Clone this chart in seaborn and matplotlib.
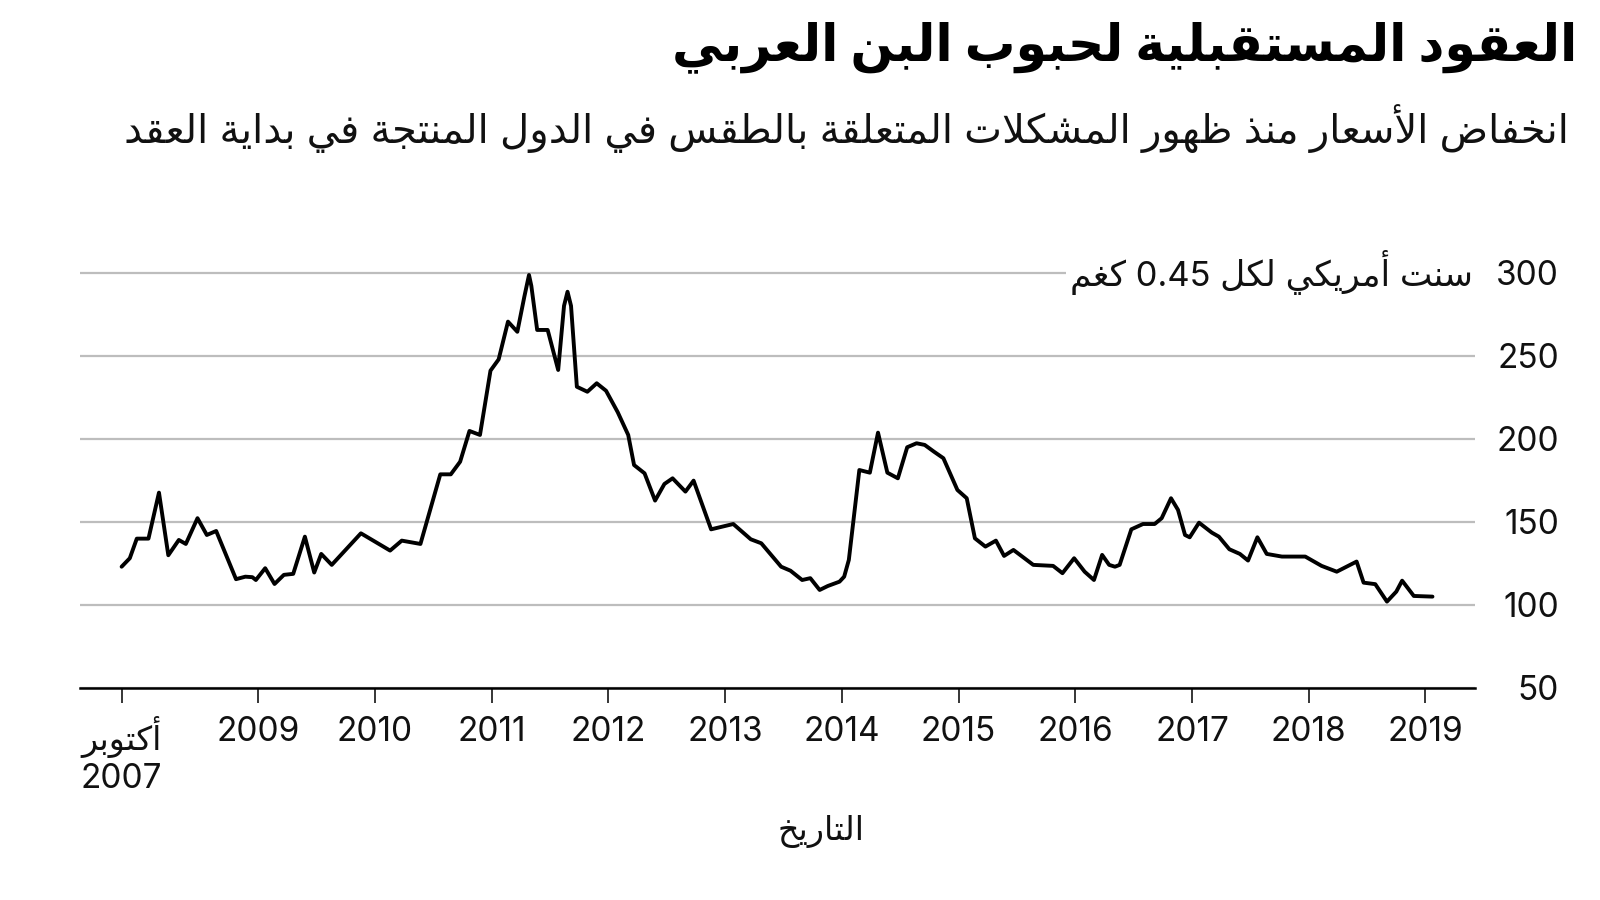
import re
import numpy as np
import pandas as pd
import matplotlib
matplotlib.use("Agg")
import matplotlib.pyplot as plt
import matplotlib.transforms as mtransforms
import seaborn as sns

# ---------------- data ----------------
years = [
    2007.83, 2007.90, 2007.96, 2008.06, 2008.15, 2008.23, 2008.32, 2008.38, 2008.48, 2008.56, 2008.64, 2008.81, 2008.89, 2008.95, 2008.98,
    2009.06, 2009.14, 2009.22, 2009.30, 2009.40, 2009.48, 2009.54, 2009.63, 2009.88, 2010.13, 2010.23, 2010.39, 2010.56, 2010.65, 2010.73,
    2010.81, 2010.90, 2010.99, 2011.06, 2011.14, 2011.22, 2011.28, 2011.32, 2011.34, 2011.39, 2011.48, 2011.57, 2011.62, 2011.65, 2011.68, 2011.73,
    2011.82, 2011.90, 2011.98, 2012.08, 2012.17, 2012.22, 2012.31, 2012.40, 2012.48, 2012.55, 2012.66, 2012.73, 2012.88, 2013.07, 2013.22, 2013.31,
    2013.48, 2013.56, 2013.66, 2013.73, 2013.81, 2013.88, 2013.98, 2014.02, 2014.06, 2014.15, 2014.24, 2014.31, 2014.39, 2014.48, 2014.56, 2014.64,
    2014.71, 2014.79, 2014.87, 2014.99, 2015.07, 2015.14, 2015.23, 2015.32,
    2015.39, 2015.47, 2015.64, 2015.81, 2015.89, 2015.99, 2016.08, 2016.16, 2016.23, 2016.29, 2016.34, 2016.38, 2016.48, 2016.58, 2016.68, 2016.74,
    2016.82, 2016.88, 2016.94, 2016.98,
    2017.06, 2017.17, 2017.23, 2017.32, 2017.41, 2017.48, 2017.56, 2017.64, 2017.77, 2017.97, 2018.11, 2018.24, 2018.41, 2018.47, 2018.57, 2018.67,
    2018.75, 2018.80, 2018.90, 2019.06,
]
prices = [
    123.0, 128.1, 139.9, 139.9, 167.6, 129.9, 139.1, 136.7, 152.2, 142.1, 144.5, 115.5, 117.0, 116.7, 115.0,
    122.1, 112.6, 118.1, 118.7, 141.1, 119.5, 130.7, 124.1, 143.1, 132.7, 138.7, 136.7, 178.6, 178.6, 186.2,
    204.7, 202.3, 241.0, 247.8, 270.5, 264.4, 285.5, 298.6, 292.0, 265.5, 265.5, 241.4, 280.0, 288.5, 280.0, 231.3,
    228.3, 233.4, 228.9, 216.0, 202.3, 184.2, 179.2, 162.8, 172.8, 176.2, 168.2, 174.8, 145.5, 148.7, 139.5, 137.1,
    123.0, 120.6, 115.0, 116.1, 109.0, 111.4, 114.0, 117.0, 127.1, 181.2, 179.6, 203.7, 179.6, 176.2, 194.9, 197.3,
    196.3, 192.2, 188.3, 169.2, 164.2, 140.1, 135.1, 138.7,
    129.5, 133.1, 124.1, 123.5, 119.1, 128.1, 120.0, 115.0, 130.1, 124.1, 123.0, 124.1, 145.5, 148.7, 148.7, 152.2,
    164.2, 157.2, 142.1, 140.7,
    149.5, 143.5, 141.1, 133.5, 130.7, 126.7, 140.7, 130.7, 129.1, 129.1, 123.5, 120.0, 126.1, 113.4, 112.5, 102.0,
    108.0, 114.6, 105.4, 105.0,
]
xtick_pos = [2007.83, 2009, 2010, 2011, 2012, 2013, 2014, 2015, 2016, 2017, 2018, 2019]
xtick_labels = ["أكتوبر\n2007", "2009", "2010", "2011", "2012", "2013", "2014",
                "2015", "2016", "2017", "2018", "2019"]
ytick_values = [50, 100, 150, 200, 250, 300]
ytick_labels = ["50", "100", "150", "200", "250", "300"]

title = "العقود المستقبلية لحبوب البن العربي"
subtitle = "انخفاض الأسعار منذ ظهور المشكلات المتعلقة بالطقس في الدول المنتجة في بداية العقد"
unit_label = "سنت أمريكي لكل 0.45 كغم"
x_label = "التاريخ"

# ---------------- minimal Arabic shaping (presentation forms) ----------------
FORMS = {
    '\u0621': ('\uFE80', None, None, None),
    '\u0622': ('\uFE81', '\uFE82', None, None),
    '\u0623': ('\uFE83', '\uFE84', None, None),
    '\u0624': ('\uFE85', '\uFE86', None, None),
    '\u0625': ('\uFE87', '\uFE88', None, None),
    '\u0626': ('\uFE89', '\uFE8A', '\uFE8B', '\uFE8C'),
    '\u0627': ('\uFE8D', '\uFE8E', None, None),
    '\u0628': ('\uFE8F', '\uFE90', '\uFE91', '\uFE92'),
    '\u0629': ('\uFE93', '\uFE94', None, None),
    '\u062A': ('\uFE95', '\uFE96', '\uFE97', '\uFE98'),
    '\u062B': ('\uFE99', '\uFE9A', '\uFE9B', '\uFE9C'),
    '\u062C': ('\uFE9D', '\uFE9E', '\uFE9F', '\uFEA0'),
    '\u062D': ('\uFEA1', '\uFEA2', '\uFEA3', '\uFEA4'),
    '\u062E': ('\uFEA5', '\uFEA6', '\uFEA7', '\uFEA8'),
    '\u062F': ('\uFEA9', '\uFEAA', None, None),
    '\u0630': ('\uFEAB', '\uFEAC', None, None),
    '\u0631': ('\uFEAD', '\uFEAE', None, None),
    '\u0632': ('\uFEAF', '\uFEB0', None, None),
    '\u0633': ('\uFEB1', '\uFEB2', '\uFEB3', '\uFEB4'),
    '\u0634': ('\uFEB5', '\uFEB6', '\uFEB7', '\uFEB8'),
    '\u0635': ('\uFEB9', '\uFEBA', '\uFEBB', '\uFEBC'),
    '\u0636': ('\uFEBD', '\uFEBE', '\uFEBF', '\uFEC0'),
    '\u0637': ('\uFEC1', '\uFEC2', '\uFEC3', '\uFEC4'),
    '\u0638': ('\uFEC5', '\uFEC6', '\uFEC7', '\uFEC8'),
    '\u0639': ('\uFEC9', '\uFECA', '\uFECB', '\uFECC'),
    '\u063A': ('\uFECD', '\uFECE', '\uFECF', '\uFED0'),
    '\u0641': ('\uFED1', '\uFED2', '\uFED3', '\uFED4'),
    '\u0642': ('\uFED5', '\uFED6', '\uFED7', '\uFED8'),
    '\u0643': ('\uFED9', '\uFEDA', '\uFEDB', '\uFEDC'),
    '\u0644': ('\uFEDD', '\uFEDE', '\uFEDF', '\uFEE0'),
    '\u0645': ('\uFEE1', '\uFEE2', '\uFEE3', '\uFEE4'),
    '\u0646': ('\uFEE5', '\uFEE6', '\uFEE7', '\uFEE8'),
    '\u0647': ('\uFEE9', '\uFEEA', '\uFEEB', '\uFEEC'),
    '\u0648': ('\uFEED', '\uFEEE', None, None),
    '\u0649': ('\uFEEF', '\uFEF0', None, None),
    '\u064A': ('\uFEF1', '\uFEF2', '\uFEF3', '\uFEF4'),
}
LAM_ALEF = {'\u0622': ('\uFEF5', '\uFEF6'), '\u0623': ('\uFEF7', '\uFEF8'),
            '\u0625': ('\uFEF9', '\uFEFA'), '\u0627': ('\uFEFB', '\uFEFC')}


def _dual(c):
    return c in FORMS and FORMS[c][2] is not None


def _shape(text):
    out = []
    i, n = 0, len(text)
    while i < n:
        c = text[i]
        prev = i > 0 and _dual(text[i - 1])
        if c == '\u0644' and i + 1 < n and text[i + 1] in LAM_ALEF:
            iso, fin = LAM_ALEF[text[i + 1]]
            out.append(fin if prev else iso)
            i += 2
            continue
        if c in FORMS:
            iso, fin, ini, med = FORMS[c]
            fin = fin or iso
            nxt = ini is not None and i + 1 < n and text[i + 1] in FORMS
            if prev and nxt:
                out.append(med)
            elif prev:
                out.append(fin)
            elif nxt:
                out.append(ini)
            else:
                out.append(iso)
        else:
            out.append(c)
        i += 1
    return ''.join(out)


def ar(text):
    lines = []
    for line in text.split('\n'):
        s = _shape(line)
        toks = re.findall(r'[0-9A-Za-z.,]+|[^0-9A-Za-z.,]+', s)
        vis = [t if re.match(r'[0-9A-Za-z]', t) else t[::-1] for t in reversed(toks)]
        lines.append(''.join(vis))
    return '\n'.join(lines)


# ---------------- plot ----------------
sns.set_theme(style="white")
plt.rcParams['font.family'] = ['Inter', 'DejaVu Sans']

df = pd.DataFrame({"year": years, "price": prices})

W, H = 1600, 900
fig = plt.figure(figsize=(16, 9), dpi=100)
fig.patch.set_facecolor("white")

ax_left, ax_right = 79.6, 1474.5
ax_top, ax_bottom = 269.3, 688.0
ax = fig.add_axes([ax_left / W, 1 - ax_bottom / H,
                   (ax_right - ax_left) / W, (ax_bottom - ax_top) / H])

sns.lineplot(data=df, x="year", y="price", ax=ax, color="black",
             linewidth=2.8, sort=False)
for ln in ax.get_lines():
    ln.set_solid_joinstyle("round")
    ln.set_solid_capstyle("round")

ax.set_xlim(2007.47, 2019.42)
ax.set_ylim(50, 302)

ax.set_yticks(ytick_values)
ax.set_yticklabels(ytick_labels)
ax.yaxis.tick_right()
ax.tick_params(axis="y", length=0, pad=61, labelsize=24, labelcolor="#111111",
               left=False, right=False, labelleft=False, labelright=True)
for lab in ax.get_yticklabels():
    lab.set_horizontalalignment("right")

ax.set_xticks(xtick_pos)
ax.set_xticklabels([ar(t) for t in xtick_labels])
ax.tick_params(axis="x", bottom=True, direction="out", length=11, width=1.1,
               color="black", pad=9, labelsize=24, labelcolor="#111111")

ax.grid(axis="y", color="#bdbdbd", linewidth=1.6)
ax.grid(axis="x", visible=False)
ax.set_axisbelow(True)
for s in ["top", "left", "right"]:
    ax.spines[s].set_visible(False)
ax.spines["bottom"].set_color("black")
ax.spines["bottom"].set_linewidth(1.8)

ax.set_ylabel("")
ax.set_xlabel(ar(x_label), fontsize=24, color="#111111")
ax.xaxis.label.set_va("center")
ax.xaxis.set_label_coords((821 - ax_left) / (ax_right - ax_left),
                          -(832 - ax_bottom) / (ax_bottom - ax_top))

trans = mtransforms.blended_transform_factory(ax.transAxes, ax.transData)
unit = ax.text(0.9989, 300, ar(unit_label), transform=trans, ha="right", va="center",
               fontsize=24, color="#111111",
               bbox=dict(facecolor="white", edgecolor="none", pad=3))

t1 = fig.text(1577 / W, 1 - 47 / H, ar(title), ha="right", va="center",
              fontsize=40, fontweight="bold", color="black")
t2 = fig.text(1569 / W, 1 - 129 / H, ar(subtitle), ha="right", va="center",
              fontsize=26, color="#111111")

renderer = fig.canvas.get_renderer()
for t, target in [(t1, 907), (t2, 1442), (unit, 405)]:
    w = t.get_window_extent(renderer=renderer).width
    t.set_fontsize(t.get_fontsize() * target / w)

fig.savefig("out.png", dpi=100)
